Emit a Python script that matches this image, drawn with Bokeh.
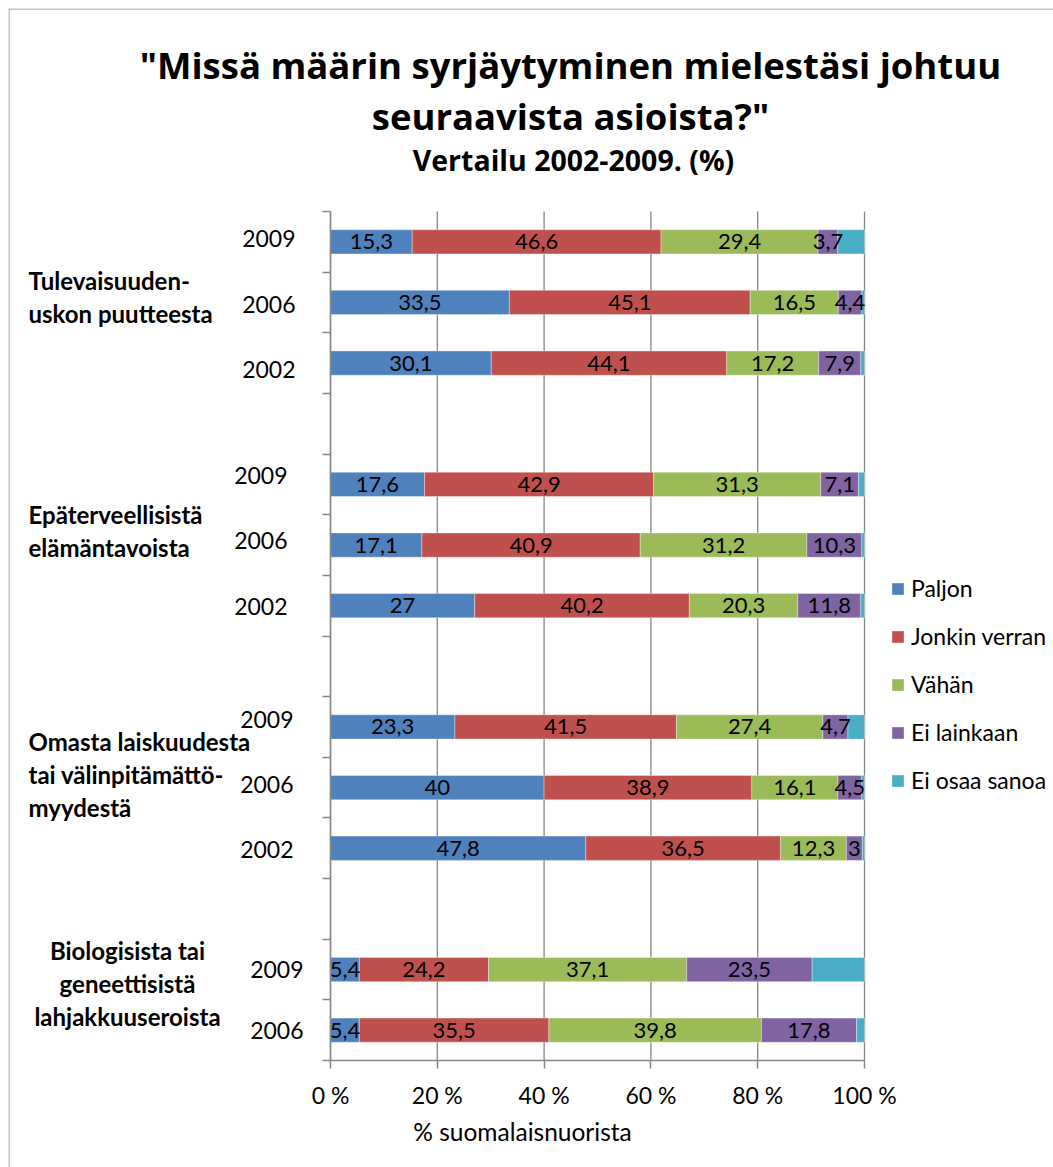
from bokeh.plotting import figure
from bokeh.models import ColumnDataSource, FixedTicker, Label, Range1d, LinearAxis, Span
from bokeh.core.properties import value
from bokeh.embed import file_html
from bokeh.resources import INLINE

# ---------------- data ----------------
group_lines = [
    ["Tulevaisuuden-", "uskon puutteesta"],
    ["Epäterveellisistä", "elämäntavoista"],
    ["Omasta laiskuudesta", "tai välinpitämättö-", "myydestä"],
    ["Biologisista tai", "geneettisistä", "lahjakkuuseroista"],
]
years = [
    ["2009", "2006", "2002"],
    ["2009", "2006", "2002"],
    ["2009", "2006", "2002"],
    ["2009", "2006"],
]
series = ["Paljon", "Jonkin verran", "Vähän", "Ei lainkaan", "Ei osaa sanoa"]
paljon = [15.3, 33.5, 30.1, 17.6, 17.1, 27, 23.3, 40, 47.8, 5.4, 5.4]
jonkin_verran = [46.6, 45.1, 44.1, 42.9, 40.9, 40.2, 41.5, 38.9, 36.5, 24.2, 35.5]
vahan = [29.4, 16.5, 17.2, 31.3, 31.2, 20.3, 27.4, 16.1, 12.3, 37.1, 39.8]
ei_lainkaan = [3.7, 4.4, 7.9, 7.1, 10.3, 11.8, 4.7, 4.5, 3, 23.5, 17.8]
ei_osaa_sanoa = [5.0, 0.5, 0.7, 1.1, 0.5, 0.7, 3.1, 0.5, 0.4, 9.8, 1.5]
x_ticks = [0, 20, 40, 60, 80, 100]
x_tick_labels = ["0 %", "20 %", "40 %", "60 %", "80 %", "100 %"]
title_lines = ['"Missä määrin syrjäytyminen mielestäsi johtuu',
               'seuraavista asioista?"']
subtitle = "Vertailu 2002-2009. (%)"
x_title = "% suomalaisnuorista"

colors = ["#4F81BD", "#C0504D", "#9BBB59", "#8064A2", "#4BACC6"]
keys = ["s0", "s1", "s2", "s3", "s4"]
values_all = [paljon, jonkin_verran, vahan, ei_lainkaan, ei_osaa_sanoa]

# ---------------- layout (page pixels) ----------------
OX, OY = 8, 8            # canvas origin on the page
W, H = 1053 - OX, 1167 - OY
FL, FR, FT, FB = 330, 864, 211, 1060   # plot area on the page
n_slots = sum(len(y) for y in years) + len(years) - 1
sx = 100.0 / (FR - FL)
sy = float(n_slots) / (FB - FT)


def dx(px):
    return (px - FL) * sx


def dy(py):
    return (FB - py) * sy


# slot centres of the rows
row_y = []
top = n_slots
for g, ys in enumerate(years):
    for _ in ys:
        row_y.append(top - 0.5)
        top -= 1
    top -= 1

data = {"y": row_y}
for k, v in zip(keys, values_all):
    data[k] = v
src = ColumnDataSource(data)

p = figure(width=W, height=H,
           x_range=Range1d(dx(OX), dx(OX + W)), y_range=Range1d(dy(OY + H), dy(OY)),
           output_backend="svg", toolbar_location=None,
           x_axis_location=None, y_axis_location=None,
           min_border=0)
p.outline_line_color = None
p.background_fill_color = "white"
p.border_fill_color = "white"
p.grid.visible = False
p.styles = {"margin-left": f"{OX}px", "margin-top": f"{OY}px"}

grey = "#878787"
# chart-area border (left and top edges)
p.add_layout(Span(location=dx(OX + 0.5), dimension="height", line_color=grey, line_width=1))
p.add_layout(Span(location=dy(OY + 0.5), dimension="width", line_color=grey, line_width=1))

# vertical grid lines (behind bars)
p.segment(x0=x_ticks, x1=x_ticks, y0=[0] * len(x_ticks), y1=[n_slots] * len(x_ticks),
          line_color=grey, line_width=1.3, level="underlay")

p.hbar_stack(keys, y="y", height=0.4, color=colors, source=src,
             legend_label=series, line_color="white", line_alpha=0.35, line_width=1)

# data labels (all but the last series)
lx, ly, lt = [], [], []
for i in range(len(row_y)):
    left = 0.0
    for s in range(len(keys)):
        v = values_all[s][i]
        if s < 4:
            lx.append(left + v / 2)
            ly.append(row_y[i])
            lt.append(f"{v:g}".replace(".", ","))
        left += v
p.text(x=lx, y=ly, text=lt, text_align="center", text_baseline="middle",
       text_font=value("Lato"), text_font_size=value("22px"), text_color="black")

# axes placed at the plot-area edges
xax = LinearAxis(fixed_location=0, bounds=(0, 100), ticker=FixedTicker(ticks=x_ticks))
xax.major_label_overrides = {t: l for t, l in zip(x_ticks, x_tick_labels)}
xax.major_tick_out = 8
xax.major_tick_in = 0
xax.minor_tick_line_color = None
xax.axis_line_color = grey
xax.major_tick_line_color = grey
xax.axis_line_width = 1.5
xax.major_tick_line_width = 1.5
xax.major_label_text_font = "Lato"
xax.major_label_text_font_size = "23px"
xax.major_label_text_color = "black"
xax.major_label_standoff = 12
p.add_layout(xax, "below")

yax = LinearAxis(fixed_location=0, bounds=(0, n_slots),
                 ticker=FixedTicker(ticks=list(range(n_slots + 1))))
yax.major_label_overrides = {t: "" for t in range(n_slots + 1)}
yax.major_tick_out = 8
yax.major_tick_in = 0
yax.minor_tick_line_color = None
yax.axis_line_color = grey
yax.major_tick_line_color = grey
yax.axis_line_width = 1.5
yax.major_tick_line_width = 1.5
p.add_layout(yax, "left")

# year labels (Excel places them slightly off the row centres)
year_right_px = [295, 287, 293, 303]
year_shift_px = [[-3, 2, 6], [-9, -5, 1], [-7, -3, 1], [0, 0]]
i = 0
for g, ys in enumerate(years):
    for j, yr in enumerate(ys):
        p.add_layout(Label(x=dx(year_right_px[g]), y=row_y[i] - year_shift_px[g][j] * sy,
                           text=yr, text_align="right", text_baseline="middle",
                           text_font="Lato", text_font_size="23px", text_color="black"))
        i += 1

# group labels
group_anchor_px = [(28, 296, "left"), (28, 530, "left"), (28, 774, "left"), (127, 983, "center")]
line_gap = 33
for g, lines in enumerate(group_lines):
    ax, ay, al = group_anchor_px[g]
    n = len(lines)
    for j, t in enumerate(lines):
        py = ay + (j - (n - 1) / 2) * line_gap
        p.add_layout(Label(x=dx(ax), y=dy(py), text=t, text_align=al,
                           text_baseline="middle", text_font="Lato",
                           text_font_style="bold", text_font_size="24px",
                           text_color="black"))

# titles
for t, py in zip(title_lines, [64, 115]):
    p.add_layout(Label(x=dx(570), y=dy(py), text=t, text_align="center",
                       text_baseline="middle", text_font="Open Sans",
                       text_font_style="bold", text_font_size="36.5px",
                       text_color="black"))
p.add_layout(Label(x=dx(573), y=dy(159), text=subtitle, text_align="center",
                   text_baseline="middle", text_font="Open Sans",
                   text_font_style="bold", text_font_size="28.5px",
                   text_color="black"))
p.add_layout(Label(x=dx(522), y=dy(1131), text=x_title, text_align="center",
                   text_baseline="middle", text_font="Lato",
                   text_font_size="24.5px", text_color="black"))

# legend
lg = p.legend[0]
lg.location = (890 - OX, (OY + H) - 794)
lg.padding = 0
lg.margin = 0
lg.border_line_color = None
lg.background_fill_alpha = 0
lg.glyph_width = 15
lg.glyph_height = 15
lg.label_height = 26
lg.spacing = 20
lg.label_standoff = 6
lg.label_text_font = "Lato"
lg.label_text_font_size = "23px"
lg.label_text_color = "black"

open("out.html", "w").write(file_html(p, INLINE))
